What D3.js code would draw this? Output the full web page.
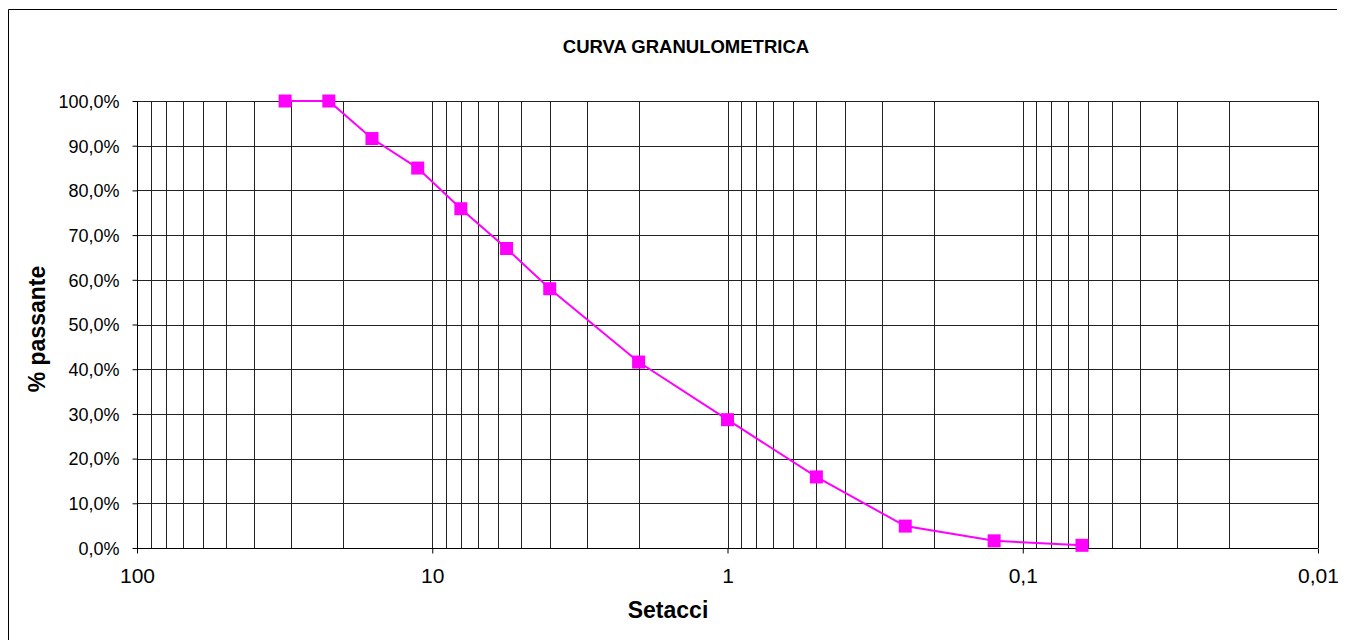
<!DOCTYPE html>
<html>
<head>
  <meta charset="UTF-8">
  <title>Curva granulometrica</title>
  <script src="https://d3js.org/d3.v7.min.js"></script>
  <style>
    body { margin: 0; background: #fff; }
    text { font-family: Arial, "Liberation Sans", sans-serif; fill: #000; }
  </style>
</head>
<body>
<div class="chart"></div>
<script>
  // sieve openings (mm) and percent passing
  var setacci = [31.5, 22.4, 16, 11.2, 8, 5.6, 4, 2, 1, 0.5, 0.25, 0.125, 0.063];
  var passante = [100, 100, 91.6, 85, 75.9, 67, 58, 41.6, 28.7, 15.9, 4.9, 1.6, 0.6];
  var xTicks = [100, 10, 1, 0.1, 0.01];
  var yTicks = [0, 10, 20, 30, 40, 50, 60, 70, 80, 90, 100];

  var W = 1347, H = 640;
  var margin = { top: 101, right: 29, bottom: 92, left: 137 };
  var width = W - margin.left - margin.right;
  var height = H - margin.top - margin.bottom;

  var svg = d3.select('.chart')
    .append('svg')
      .attr('width', W)
      .attr('height', H);

  // outer chart frame (only top and left edges are inside the picture)
  svg.append('path')
    .attr('d', 'M8.5,' + H + 'V9.5H1337')
    .attr('fill', 'none').attr('stroke', '#000').attr('stroke-width', 1);

  svg.append('text')
    .attr('x', 686).attr('y', 53)
    .attr('text-anchor', 'middle')
    .style('font-size', '18.5px').style('font-weight', 'bold')
    .text('CURVA GRANULOMETRICA');

  var g = svg.append('g')
    .attr('transform', 'translate(' + margin.left + ',' + margin.top + ')');

  var x = d3.scaleLog().domain([100, 0.01]).range([0, width]);
  var y = d3.scaleLinear().domain([0, 100]).range([height, 0]);

  // vertical grid: decades and their 2..9 subdivisions
  var gridX = [];
  [10, 1, 0.1, 0.01].forEach(function (d) {
    for (var k = 1; k <= 9; k++) gridX.push(d * k);
  });
  gridX = gridX.filter(function (v) { return v < 100 && v > 0.01; });

  g.selectAll('.vgrid')
    .data(gridX)
    .enter().append('line')
      .attr('class', 'vgrid')
      .attr('x1', function (d) { return Math.round(x(d)) + 0.5; })
      .attr('x2', function (d) { return Math.round(x(d)) + 0.5; })
      .attr('y1', 0).attr('y2', height)
      .attr('stroke', '#222').attr('stroke-width', 1);

  g.selectAll('.hgrid')
    .data(yTicks.filter(function (d) { return d > 0; }))
    .enter().append('line')
      .attr('class', 'hgrid')
      .attr('x1', 0).attr('x2', width)
      .attr('y1', function (d) { return Math.round(y(d)) + 0.5; })
      .attr('y2', function (d) { return Math.round(y(d)) + 0.5; })
      .attr('stroke', '#222').attr('stroke-width', 1);

  // right border of the plot
  g.append('line')
    .attr('x1', width + 0.5).attr('x2', width + 0.5)
    .attr('y1', 0).attr('y2', height)
    .attr('stroke', '#000');

  // Y axis
  var yAxis = d3.axisLeft(y)
    .tickValues(yTicks)
    .tickSize(5)
    .tickPadding(13)
    .tickFormat(function (d) { return d.toFixed(1).replace('.', ',') + '%'; });
  g.append('g')
    .attr('transform', 'translate(0.5,0)')
    .call(yAxis)
    .call(function (s) {
      s.select('.domain').attr('stroke', '#000').attr('d', 'M0,0V' + height);
      s.selectAll('text').style('font-size', '18px').attr('dy', '0.35em');
    });

  // X axis
  var xAxis = d3.axisBottom(x)
    .tickValues(xTicks)
    .tickSize(5)
    .tickPadding(15)
    .tickFormat(function (d) { return String(d).replace('.', ','); });
  g.append('g')
    .attr('transform', 'translate(0,' + (height + 0.5) + ')')
    .call(xAxis)
    .call(function (s) {
      s.select('.domain').attr('stroke', '#000').attr('d', 'M0,0H' + width);
      s.selectAll('text').style('font-size', '21px');
    });

  svg.append('text')
    .attr('x', 668).attr('y', 618)
    .attr('text-anchor', 'middle')
    .style('font-size', '23px').style('font-weight', 'bold')
    .text('Setacci');

  svg.append('text')
    .attr('transform', 'translate(45,329) rotate(-90)')
    .attr('text-anchor', 'middle')
    .style('font-size', '23px').style('font-weight', 'bold')
    .text('% passante');

  // series
  var pts = setacci.map(function (d, i) { return [d, passante[i]]; });
  var line = d3.line()
    .x(function (d) { return x(d[0]); })
    .y(function (d) { return y(d[1]); });

  g.append('path')
    .datum(pts)
    .attr('fill', 'none')
    .attr('stroke', '#ff00ff')
    .attr('stroke-width', 2)
    .attr('d', line);

  var s = 13;
  g.selectAll('.pt')
    .data(pts)
    .enter().append('rect')
      .attr('class', 'pt')
      .attr('x', function (d) { return x(d[0]) - s / 2; })
      .attr('y', function (d) { return y(d[1]) - s / 2; })
      .attr('width', s).attr('height', s)
      .attr('fill', '#ff00ff');
</script>
</body>
</html>
